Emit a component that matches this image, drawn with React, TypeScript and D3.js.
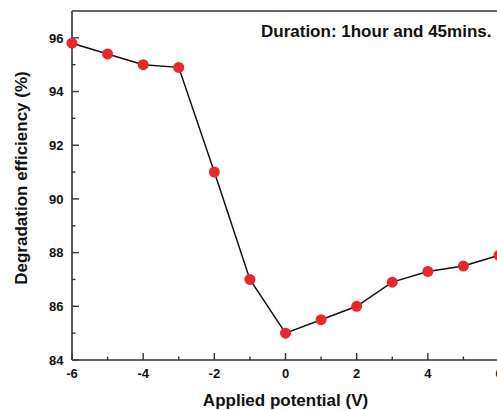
import React from "react";
import * as d3 from "d3";

const potentials = [-6, -5, -4, -3, -2, -1, 0, 1, 2, 3, 4, 5, 6];
const efficiency = [95.8, 95.4, 95.0, 94.9, 91.0, 87.0, 85.0, 85.5, 86.0, 86.9, 87.3, 87.5, 87.9];
const xTicks = [-6, -4, -2, 0, 2, 4, 6];
const xMinor = [-5, -3, -1, 1, 3, 5];
const yTicks = [84, 86, 88, 90, 92, 94, 96];
const yMinor = [85, 87, 89, 91, 93, 95];

const W = 497;
const H = 410;
const left = 72;
const right = 499;
const top = 11;
const bottom = 360;

export default function App() {
  const x = d3.scaleLinear().domain([-6, 6]).range([left, right]);
  const y = d3.scaleLinear().domain([84, 97]).range([bottom, top]);
  const pts = potentials.map((p, i) => [p, efficiency[i]] as [number, number]);
  const line = d3
    .line<[number, number]>()
    .x((d) => x(d[0]))
    .y((d) => y(d[1]))(pts);
  const axisColor = "#333";
  const font = "'Liberation Sans', Arial, sans-serif";
  return (
    <svg
      width={W}
      height={H}
      style={{ position: "absolute", left: 0, top: 0, background: "#fff" }}
      fontFamily={font}
    >
      <rect x={0} y={0} width={W} height={H} fill="#fff" />
      {/* axes */}
      <line x1={left} x2={right} y1={bottom} y2={bottom} stroke={axisColor} strokeWidth={1.6} />
      <line x1={left} x2={left} y1={top} y2={bottom} stroke={axisColor} strokeWidth={1.6} />
      <line x1={left} x2={right} y1={top} y2={top} stroke={axisColor} strokeWidth={1.6} />
      {xTicks.map((t) => (
        <g key={"xt" + t}>
          <line x1={x(t)} x2={x(t)} y1={bottom} y2={bottom - 7} stroke={axisColor} strokeWidth={1.4} />
          <text x={x(t)} y={378} textAnchor="middle" fontSize={13} fontWeight="bold" fill="#111">
            {t}
          </text>
        </g>
      ))}
      {xMinor.map((t) => (
        <line key={"xm" + t} x1={x(t)} x2={x(t)} y1={bottom} y2={bottom - 3.5} stroke={axisColor} strokeWidth={1.4} />
      ))}
      {yTicks.map((t) => (
        <g key={"yt" + t}>
          <line x1={left} x2={left + 7} y1={y(t)} y2={y(t)} stroke={axisColor} strokeWidth={1.4} />
          <text x={63.5} y={y(t) + 4.7} textAnchor="end" fontSize={13} fontWeight="bold" fill="#111">
            {t}
          </text>
        </g>
      ))}
      {yMinor.map((t) => (
        <line key={"ym" + t} x1={left} x2={left + 3.5} y1={y(t)} y2={y(t)} stroke={axisColor} strokeWidth={1.4} />
      ))}
      {/* data */}
      <path d={line ?? ""} fill="none" stroke="#111" strokeWidth={1.5} />
      {pts.map((d, i) => (
        <circle key={i} cx={x(d[0])} cy={y(d[1])} r={5.5} fill="#e8282a" />
      ))}
      {/* titles */}
      <text x={285.5} y={406} textAnchor="middle" fontSize={17} fontWeight="bold" fill="#111">
        Applied potential (V)
      </text>
      <text
        transform={`translate(27, 178) rotate(-90)`}
        textAnchor="middle"
        fontSize={17}
        fontWeight="bold"
        fill="#111"
      >
        Degradation efficiency (%)
      </text>
      <text x={261} y={37} fontSize={17} fontWeight="bold" fill="#111">
        Duration: 1hour and 45mins.
      </text>
    </svg>
  );
}
